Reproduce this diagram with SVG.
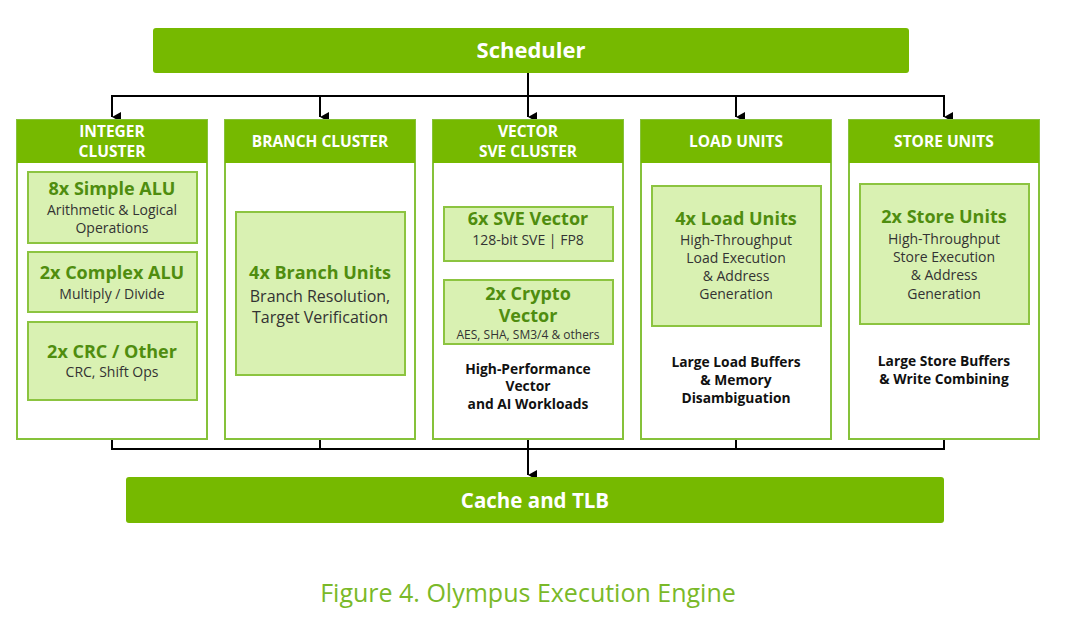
<svg xmlns="http://www.w3.org/2000/svg" width="1080" height="639" viewBox="0 0 1080 639">
<defs>
<marker id="arr" markerUnits="userSpaceOnUse" markerWidth="10" markerHeight="10" refX="5" refY="9" orient="auto-start-reverse" viewBox="0 0 10 10">
<path d="M0,0 L10,0 L5,9 Z" fill="#000"/>
</marker>
<style>
text{font-family:"Open Sans","Liberation Sans",sans-serif;text-anchor:middle}
.bar{fill:#76b900}
.bart{fill:#fff;font-weight:700;font-size:22px}
.box{fill:#fff;stroke:#86c23a;stroke-width:2}
.hdr{fill:#76b900}
.hdt{fill:#fff;font-weight:700;font-size:15.5px}
.in{fill:#d9f1b2;stroke:#8cc440;stroke-width:2}
.tt{fill:#4f8d0f;font-weight:700;font-size:18px}
.st{fill:#333;font-size:14px}
.st2{fill:#333;font-size:16px}
.bt{fill:#111;font-weight:700;font-size:13.8px}
.ln{fill:none;stroke:#000;stroke-width:2}
</style>
</defs>
<rect width="1080" height="639" fill="#fff"/>

<g id="scheduler">
<rect class="bar" x="153" y="28" width="756" height="45" rx="3"/>
<text class="bart" x="531" y="58">Scheduler</text>
</g>

<g id="connectors">
<path class="ln" d="M528,73 V117" marker-end="url(#arr)"/>
<path class="ln" d="M112,117 V96 H944 V117" marker-start="url(#arr)" marker-end="url(#arr)"/>
<path class="ln" d="M320,96 V117" marker-end="url(#arr)"/>
<path class="ln" d="M736,96 V117" marker-end="url(#arr)"/>
<path class="ln" d="M112,439 V449 H944 V439"/>
<path class="ln" d="M320,439 V449 M528,439 V449 M736,439 V449"/>
<path class="ln" d="M528,449 V475" marker-end="url(#arr)"/>
</g>

<g id="integer">
<rect class="box" x="17" y="120" width="190" height="319"/>
<rect class="hdr" x="17" y="120" width="190" height="43"/>
<text class="hdt" x="112" y="137">INTEGER</text>
<text class="hdt" x="112" y="157">CLUSTER</text>
<rect class="in" x="28" y="172" width="169" height="71"/>
<text class="tt" x="112" y="195">8x Simple ALU</text>
<text class="st" x="112" y="215">Arithmetic &amp; Logical</text>
<text class="st" x="112" y="233">Operations</text>
<rect class="in" x="28" y="252" width="169" height="60"/>
<text class="tt" x="112" y="279">2x Complex ALU</text>
<text class="st" x="112" y="299">Multiply / Divide</text>
<rect class="in" x="28" y="322" width="169" height="78"/>
<text class="tt" x="112" y="358">2x CRC / Other</text>
<text class="st" x="112" y="377">CRC, Shift Ops</text>
</g>

<g id="branch">
<rect class="box" x="225" y="120" width="190" height="319"/>
<rect class="hdr" x="225" y="120" width="190" height="43"/>
<text class="hdt" x="320" y="147">BRANCH CLUSTER</text>
<rect class="in" x="236" y="212" width="169" height="163"/>
<text class="tt" x="320" y="279">4x Branch Units</text>
<text class="st2" x="320" y="302">Branch Resolution,</text>
<text class="st2" x="320" y="323">Target Verification</text>
</g>

<g id="vector">
<rect class="box" x="433" y="120" width="190" height="319"/>
<rect class="hdr" x="433" y="120" width="190" height="43"/>
<text class="hdt" x="528" y="137">VECTOR</text>
<text class="hdt" x="528" y="157">SVE CLUSTER</text>
<rect class="in" x="444" y="207" width="169" height="54"/>
<text class="tt" x="528" y="225">6x SVE Vector</text>
<text class="st" x="528" y="245">128-bit SVE | FP8</text>
<rect class="in" x="444" y="280" width="169" height="64"/>
<text class="tt" x="528" y="300">2x Crypto</text>
<text class="tt" x="528" y="322">Vector</text>
<text class="st" x="528" y="339" style="font-size:12px">AES, SHA, SM3/4 &amp; others</text>
<text class="bt" x="528" y="374">High-Performance</text>
<text class="bt" x="528" y="391">Vector</text>
<text class="bt" x="528" y="409">and AI Workloads</text>
</g>

<g id="load">
<rect class="box" x="641" y="120" width="190" height="319"/>
<rect class="hdr" x="641" y="120" width="190" height="43"/>
<text class="hdt" x="736" y="147">LOAD UNITS</text>
<rect class="in" x="652" y="186" width="169" height="140"/>
<text class="tt" x="736" y="225">4x Load Units</text>
<text class="st" x="736" y="245">High-Throughput</text>
<text class="st" x="736" y="263">Load Execution</text>
<text class="st" x="736" y="281">&amp; Address</text>
<text class="st" x="736" y="299">Generation</text>
<text class="bt" x="736" y="367">Large Load Buffers</text>
<text class="bt" x="736" y="385">&amp; Memory</text>
<text class="bt" x="736" y="403">Disambiguation</text>
</g>

<g id="store">
<rect class="box" x="849" y="120" width="190" height="319"/>
<rect class="hdr" x="849" y="120" width="190" height="43"/>
<text class="hdt" x="944" y="147">STORE UNITS</text>
<rect class="in" x="860" y="184" width="169" height="140"/>
<text class="tt" x="944" y="223">2x Store Units</text>
<text class="st" x="944" y="244">High-Throughput</text>
<text class="st" x="944" y="262">Store Execution</text>
<text class="st" x="944" y="280">&amp; Address</text>
<text class="st" x="944" y="299">Generation</text>
<text class="bt" x="944" y="366">Large Store Buffers</text>
<text class="bt" x="944" y="384">&amp; Write Combining</text>
</g>

<g id="cache">
<rect class="bar" x="126" y="477" width="818" height="46" rx="3"/>
<text class="bart" x="535" y="508" style="font-size:20.5px">Cache and TLB</text>
</g>

<text x="528" y="602" style="fill:#7ab928;font-size:25px;font-weight:400">Figure 4. Olympus Execution Engine</text>
</svg>
